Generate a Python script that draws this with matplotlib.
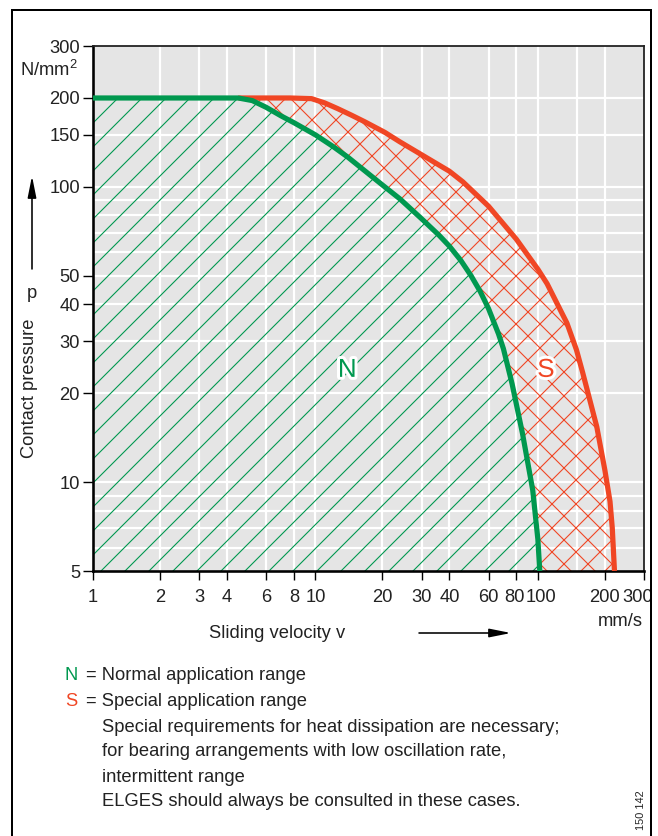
import numpy as np
import matplotlib.pyplot as plt
import matplotlib.patheffects as pe
from matplotlib.patches import Rectangle
from matplotlib.transforms import ScaledTranslation

# Values (sliding velocity mm/s, contact pressure N/mm2)
green_v = [1, 4.5, 5.2, 6, 7, 8, 10, 12, 14, 17, 20, 24, 30, 36, 40,
           45, 50, 55, 60, 66.5, 70, 76.6, 85.3, 94.8, 100, 102]
green_p = [200, 200, 196, 186, 174, 165, 150, 137, 126, 112, 101.5, 91, 78, 68.5, 63,
           56.4, 50.1, 44.3, 38.7, 31.8, 28.3, 21.5, 14.6, 9.4, 6.4, 5]

red_v = [4.5, 7.7, 9.6, 11, 12.6, 14.5, 16.7, 20.5, 24, 33.7, 40, 46, 60, 80,
         100, 110, 135, 149, 159, 184, 200, 211, 216, 221]
red_p = [200, 200, 199, 192.5, 184, 175, 166, 153, 142, 122, 113, 104, 86, 66.5,
         52.6, 47, 34.6, 28.1, 23.5, 15.4, 11.0, 8.6, 7.0, 5]

x_ticks = [1, 2, 3, 4, 6, 8, 10, 20, 30, 40, 60, 80, 100, 200, 300]
y_ticks = [5, 10, 20, 30, 40, 50, 100, 150, 200, 300]
x_grid = [2, 3, 4, 6, 8, 10, 20, 30, 40, 60, 80, 100, 150, 200]
y_grid = [6, 7, 8, 9, 10, 20, 30, 40, 50, 60, 70, 80, 90, 100, 150, 200]

notes = ["Special requirements for heat dissipation are necessary;",
         "for bearing arrangements with low oscillation rate,",
         "intermittent range",
         "ELGES should always be consulted in these cases."]

GREEN = "#00984f"
RED = "#f04624"
TXT = "#222222"
FS = 9.2

plt.rcParams['font.family'] = ['Liberation Sans', 'DejaVu Sans']
plt.rcParams['mathtext.default'] = 'regular'
plt.rcParams['hatch.linewidth'] = 0.55

W, H, DPI = 658, 836, 144
fig = plt.figure(figsize=(W / DPI, H / DPI), dpi=DPI)
ax = fig.add_axes([93 / W, 1 - 571 / H, 551 / W, 525 / H])
ax.set_xscale('log')
ax.set_yscale('log')
ax.set_xlim(1, 300)
ax.set_ylim(5, 300)
ax.set_facecolor('#e5e5e5')

# white grid
for g in x_grid:
    ax.axvline(g, color='white', lw=1.1, zorder=0.5)
for g in y_grid:
    ax.axhline(g, color='white', lw=1.1, zorder=0.5)

# hatched areas
ax.fill_between(green_v, 5, green_p, facecolor='none', edgecolor=GREEN,
                hatch='//', linewidth=0, zorder=1)
band_v = red_v + green_v[::-1]
band_p = red_p + green_p[::-1]
ax.fill(band_v, band_p, facecolor='none', edgecolor=RED, hatch='xx',
        linewidth=0, zorder=1)

ax.plot(red_v, red_p, color=RED, lw=2.6, solid_capstyle='butt',
        solid_joinstyle='round', zorder=3)
ax.plot(green_v, green_p, color=GREEN, lw=2.6, solid_capstyle='butt',
        solid_joinstyle='round', zorder=4)

halo = [pe.withStroke(linewidth=3, foreground='white')]
ax.text(13.9, 24, "N", color=GREEN, fontsize=13, ha='center', va='center',
        path_effects=halo, zorder=5)
ax.text(108.7, 24, "S", color=RED, fontsize=13, ha='center', va='center',
        path_effects=halo, zorder=5)

# axes styling
ax.set_xticks(x_ticks)
ax.set_xticklabels([str(t) for t in x_ticks])
ax.set_yticks(y_ticks)
ax.set_yticklabels([str(t) for t in y_ticks])
ax.minorticks_off()
ax.tick_params(axis='x', length=4.5, width=0.7, pad=4.5, labelsize=FS, colors='black', labelcolor=TXT)
ax.tick_params(axis='y', length=5, width=0.7, pad=1.5, labelsize=FS, colors='black', labelcolor=TXT)
for s in ['left', 'bottom']:
    ax.spines[s].set_linewidth(1.3)
for s in ['top', 'right']:
    ax.spines[s].set_linewidth(0.9)
    ax.spines[s].set_color('#222222')

# nudge crowded x labels like in the original
shifts = {80: -2, 100: 3, 300: -6}
for lab, t in zip(ax.get_xticklabels(), x_ticks):
    if t in shifts:
        lab.set_transform(lab.get_transform() + ScaledTranslation(shifts[t] / DPI, 0, fig.dpi_scale_trans))

def fx(px):
    return px / W

def fy(py):
    return 1 - py / H

fig.text(fx(78), fy(70), "N/mm$^2$", ha='right', va='center', fontsize=FS, color=TXT)
fig.text(fx(643), fy(621), "mm/s", ha='right', va='center', fontsize=FS, color=TXT)
fig.text(fx(277), fy(634), "Sliding velocity v", ha='center', va='center', fontsize=FS, color=TXT)
fig.text(fx(30), fy(388), "Contact pressure", rotation=90, ha='center', va='center',
         fontsize=FS, color=TXT)
fig.text(fx(32), fy(293), "p", ha='center', va='center', fontsize=FS, color=TXT)

arrow = dict(arrowstyle='-|>,head_length=0.9,head_width=0.18', color='black', lw=0.8)
ax.annotate('', xy=(515, H - 633), xytext=(415, H - 633), xycoords='figure pixels',
            textcoords='figure pixels', arrowprops=arrow, annotation_clip=False)
ax.annotate('', xy=(32, H - 172), xytext=(32, H - 273), xycoords='figure pixels',
            textcoords='figure pixels', arrowprops=arrow, annotation_clip=False)

# legend notes
fig.text(fx(65), fy(676), "N", color=GREEN, fontsize=FS, va='center')
fig.text(fx(86), fy(676), "= Normal application range", color=TXT, fontsize=FS, va='center')
fig.text(fx(65), fy(701), "S", color=RED, fontsize=FS, va='center')
fig.text(fx(86), fy(701), "= Special application range", color=TXT, fontsize=FS, va='center')
for i, line in enumerate(notes):
    fig.text(fx(102), fy(727 + 25 * i), line, color=TXT, fontsize=FS, va='center')

fig.text(fx(641), fy(810), "150 142", rotation=90, ha='center', va='center',
         fontsize=5.5, color=TXT)

# outer frame
fig.add_artist(Rectangle((12 / W, -0.1), (651 - 12) / W, 1.1 - 10 / H,
                         transform=fig.transFigure, fill=False, lw=1.0, ec='black'))

fig.savefig("out.png", dpi=DPI)
